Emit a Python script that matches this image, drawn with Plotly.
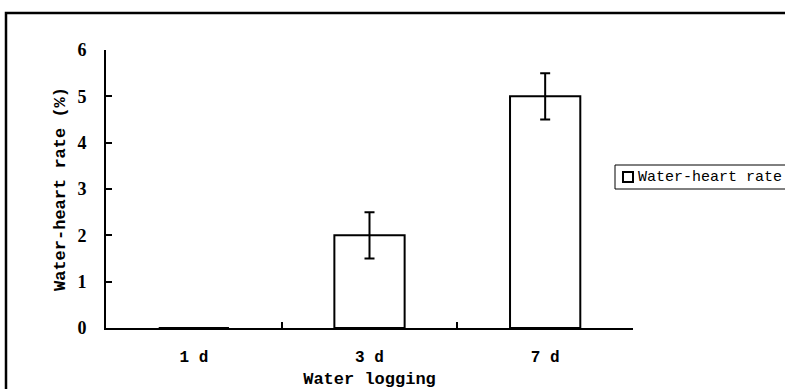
import plotly.graph_objects as go

categories = ["1 d", "3 d", "7 d"]
values = [0, 2, 5]
errors = [0, 0.5, 0.5]
series_name = "Water-heart rate"
y_ticks = [0, 1, 2, 3, 4, 5, 6]

W, H = 785, 389
L, R, T, B = 106, 152, 50, 61
pw = W - L - R
ph = H - T - B

fig = go.Figure()
fig.add_trace(go.Bar(
    x=categories, y=values, name=series_name, width=0.4,
    marker=dict(color="white", line=dict(color="black", width=2)),
    error_y=dict(type="data", array=errors, visible=True, color="black",
                 thickness=2, width=5),
    showlegend=False,
))

def px_x(p):
    return (p - L) / pw

def px_y(p):
    return (H - B - p) / ph

# outer frame
fig.add_shape(type="rect", xref="paper", yref="paper",
              x0=px_x(6), x1=px_x(900), y0=px_y(500), y1=px_y(13),
              line=dict(color="black", width=2.5), fillcolor="rgba(0,0,0,0)",
              layer="below")
# legend box
fig.add_shape(type="rect", xref="paper", yref="paper",
              x0=px_x(615), x1=px_x(800), y0=px_y(189), y1=px_y(165),
              line=dict(color="black", width=1), fillcolor="white")
fig.add_shape(type="rect", xref="paper", yref="paper",
              x0=px_x(623), x1=px_x(633), y0=px_y(182), y1=px_y(172),
              line=dict(color="black", width=2), fillcolor="white")
fig.add_annotation(xref="paper", yref="paper", x=px_x(636), y=px_y(177),
                   xanchor="left", yanchor="middle", showarrow=False,
                   text=series_name,
                   font=dict(family="Liberation Mono", size=15, color="black"))

fig.update_layout(
    width=W, height=H,
    margin=dict(l=L, r=R, t=T, b=B, autoexpand=False),
    paper_bgcolor="white", plot_bgcolor="white",
    showlegend=False,
    xaxis=dict(
        type="category", range=[-0.5, 2.5], showline=True, linecolor="black",
        linewidth=2, ticks="inside", tickson="boundaries", ticklen=6,
        tickwidth=2, tickcolor="black", showgrid=False, zeroline=False,
        ticklabelstandoff=13,
        tickfont=dict(family="Liberation Mono", size=16, color="black", weight="bold"),
        title=dict(text="Water logging", standoff=11,
                   font=dict(family="Liberation Mono", size=17, color="black", weight="bold")),
    ),
    yaxis=dict(
        range=[0, 6], tickvals=y_ticks, showline=True, linecolor="black",
        linewidth=2, ticks="inside", ticklen=6, tickwidth=2, tickcolor="black",
        showgrid=False, zeroline=False, ticklabelstandoff=14,
        tickfont=dict(family="Liberation Serif", size=18, color="black", weight="bold"),
        title=dict(text="Water-heart rate (%)", standoff=7,
                   font=dict(family="Liberation Mono", size=17, color="black", weight="bold")),
    ),
)

fig.write_html("out.html")
